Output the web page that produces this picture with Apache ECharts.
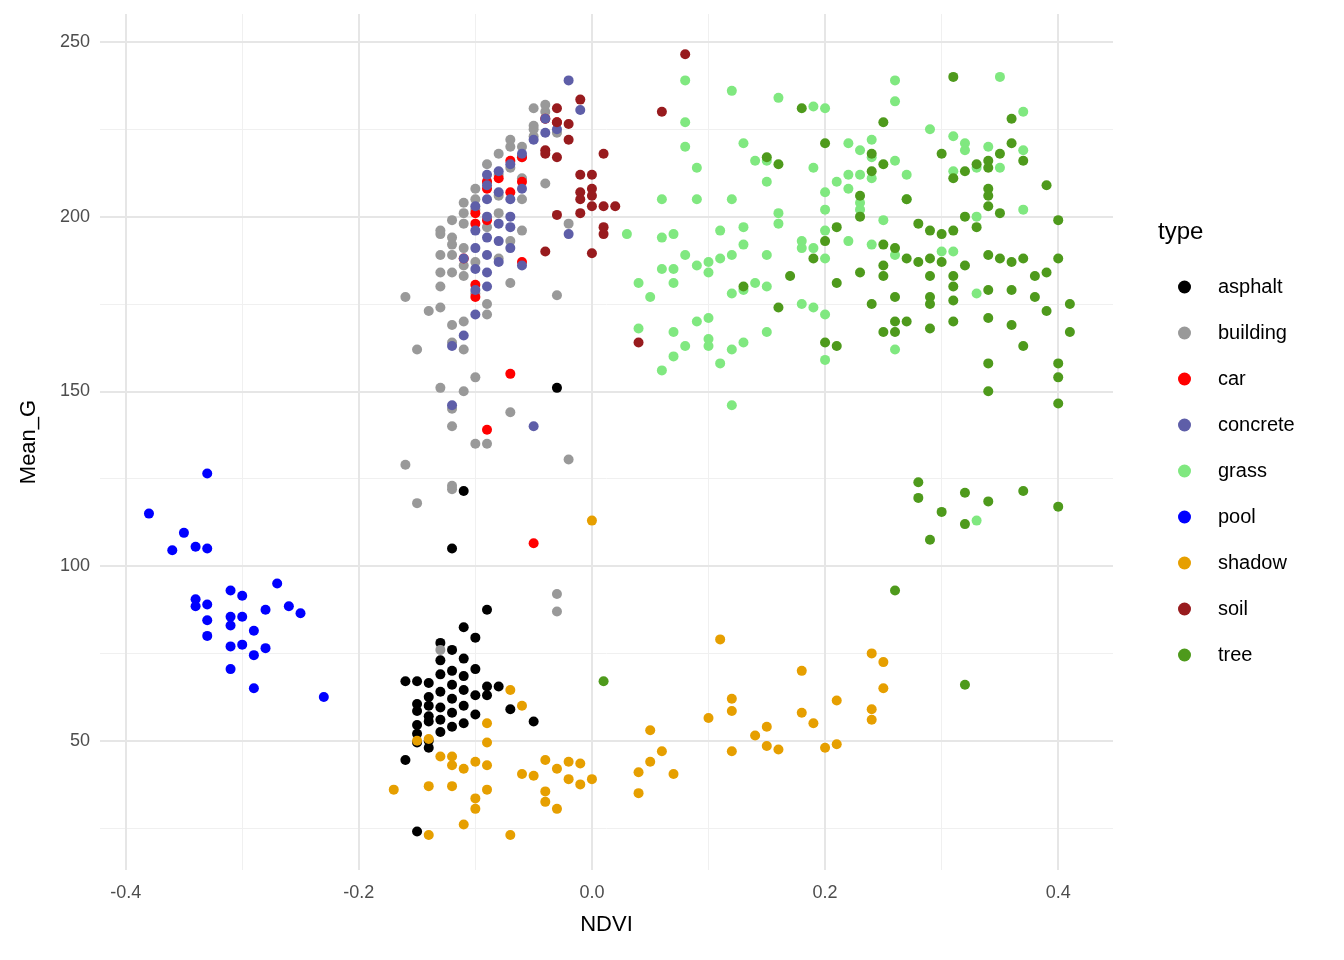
<!DOCTYPE html>
<html><head><meta charset="utf-8">
<script src="https://cdn.jsdelivr.net/npm/echarts@6/dist/echarts.min.js"></script>
<style>html,body{margin:0;padding:0;background:#fff}#c{width:1344px;height:960px}</style>
</head><body><div id="c"></div>
<script>
const xTicks=[-0.4,-0.2,0,0.2,0.4];
const xMinor=[-0.3,-0.1,0.1,0.3];
const yTicks=[50,100,150,200,250];
const yMinor=[25,75,125,175,225];
const typeNames=['asphalt','building','car','concrete','grass','pool','shadow','soil','tree'];
const colors=['#000000','#999999','#ff0000','#5e5ea8','#80e880','#0000ff','#e69f00','#981b1e','#4e9a1c'];
const asphalt=[[-0.03,151],[-0.11,121.5],[-0.12,105],[-0.09,87.5],[-0.11,82.5],[-0.10,79.5],[-0.13,78],[-0.12,76],[-0.13,73],[-0.11,73.5],[-0.10,70.5],[-0.12,70],[-0.13,69],[-0.11,68.5],[-0.16,67],[-0.15,67],[-0.14,66.5],[-0.12,66],[-0.09,65.5],[-0.08,65.5],[-0.11,64.5],[-0.13,64],[-0.14,62.5],[-0.12,62],[-0.10,63],[-0.09,63],[-0.15,60.5],[-0.14,60],[-0.13,59.5],[-0.11,60],[-0.12,58],[-0.15,58.5],[-0.14,57],[-0.10,57.5],[-0.07,59],[-0.13,56],[-0.14,55.5],[-0.15,54.5],[-0.11,55],[-0.12,54],[-0.05,55.5],[-0.15,52],[-0.14,50],[-0.13,52.5],[-0.15,49.5],[-0.14,48],[-0.16,44.5],[-0.15,24]];
const building=[[-0.16,177],[-0.15,162],[-0.13,151],[-0.12,140],[-0.11,150],[-0.10,154],[-0.12,145],[-0.10,135],[-0.09,135],[-0.07,144],[-0.16,129],[-0.15,118],[-0.12,123],[-0.12,122],[-0.02,130.5],[-0.03,92],[-0.03,87],[-0.13,76],[-0.03,177.5],[-0.02,198],[-0.04,209.5],[-0.11,162],[-0.12,164],[-0.12,169],[-0.11,170],[-0.14,173],[-0.13,174],[-0.09,175],[-0.09,172],[-0.1,178],[-0.07,181],[-0.13,184],[-0.12,184],[-0.11,186],[-0.13,189],[-0.12,189],[-0.11,191],[-0.13,195],[-0.13,196],[-0.12,194],[-0.12,199],[-0.11,198],[-0.11,201],[-0.11,204],[-0.10,202],[-0.10,205],[-0.1,208],[-0.09,210],[-0.08,212],[-0.09,215],[-0.08,218],[-0.07,220],[-0.07,222],[-0.06,220],[-0.05,223],[-0.05,225],[-0.05,226],[-0.04,228],[-0.04,230],[-0.05,231],[-0.04,232],[-0.03,224],[-0.06,217],[-0.07,214],[-0.08,206],[-0.12,192],[-0.11,183],[-0.13,180],[-0.06,196],[-0.07,193],[-0.08,201],[-0.09,197],[-0.06,205],[-0.06,211],[-0.08,188],[-0.1,187]];
const car=[[-0.04,228],[-0.06,217],[-0.07,216],[-0.08,211],[-0.09,210],[-0.06,210],[-0.09,208],[-0.07,207],[-0.10,201],[-0.10,198],[-0.09,199],[-0.11,188],[-0.10,180.5],[-0.10,177],[-0.06,187],[-0.07,155],[-0.09,139],[-0.05,106.5],[-0.03,227]];
const concrete=[[-0.02,239],[-0.01,230.5],[-0.04,228],[-0.03,225],[-0.04,224],[-0.05,222],[-0.06,218],[-0.07,215],[-0.08,213],[-0.09,212],[-0.09,209],[-0.08,207],[-0.07,205],[-0.09,205],[-0.1,203],[-0.09,200],[-0.08,198],[-0.07,197],[-0.1,196],[-0.09,194],[-0.08,193],[-0.1,191],[-0.09,189],[-0.08,187],[-0.07,191],[-0.1,185],[-0.09,184],[-0.09,180],[-0.1,179],[-0.06,186],[-0.02,195],[-0.11,166],[-0.12,163],[-0.12,146],[-0.05,140],[-0.11,188],[-0.1,172],[-0.07,200],[-0.06,208]];
const grass=[[0.08,239],[0.12,236],[0.16,234],[0.19,231.5],[0.20,231],[0.26,239],[0.26,233],[0.35,240],[0.37,230],[0.08,227],[0.24,222],[0.22,221],[0.13,221],[0.29,225],[0.31,223],[0.32,221],[0.32,219],[0.34,220],[0.37,219],[0.08,220],[0.23,219],[0.24,217],[0.26,216],[0.15,216],[0.14,216],[0.09,214],[0.19,214],[0.22,212],[0.23,212],[0.24,211],[0.27,212],[0.33,214],[0.35,214],[0.31,213],[0.21,210],[0.15,210],[0.22,208],[0.20,207],[0.23,204],[0.06,205],[0.09,205],[0.12,205],[0.20,202],[0.23,202],[0.33,200],[0.37,202],[0.16,201],[0.25,199],[0.16,198],[0.13,197],[0.11,196],[0.03,195],[0.06,194],[0.07,195],[0.20,196],[0.22,193],[0.13,192],[0.18,191],[0.19,191],[0.24,192],[0.15,189],[0.08,189],[0.12,189],[0.10,187],[0.11,188],[0.09,186],[0.26,189],[0.30,190],[0.20,188],[0.07,185],[0.06,185],[0.10,184],[0.04,181],[0.07,181],[0.05,177],[0.14,181],[0.15,180],[0.13,179],[0.12,178],[0.18,175],[0.19,174],[0.20,172],[0.10,171],[0.09,170],[0.07,167],[0.04,168],[0.15,167],[0.13,164],[0.12,162],[0.10,163],[0.10,165],[0.08,163],[0.07,160],[0.11,158],[0.06,156],[0.20,159],[0.26,162],[0.12,146],[0.31,190],[0.33,178],[0.33,113],[0.27,205],[0.18,193]];
const pool=[[-0.38,115],[-0.33,126.5],[-0.35,109.5],[-0.36,104.5],[-0.34,105.5],[-0.33,105],[-0.34,90.5],[-0.34,88.5],[-0.33,89],[-0.31,93],[-0.30,91.5],[-0.31,85.5],[-0.30,85.5],[-0.33,84.5],[-0.31,83],[-0.33,80],[-0.29,81.5],[-0.27,95],[-0.28,87.5],[-0.26,88.5],[-0.25,86.5],[-0.31,77],[-0.30,77.5],[-0.28,76.5],[-0.29,74.5],[-0.31,70.5],[-0.29,65],[-0.23,62.5]];
const shadow=[[0.0,113],[0.11,79],[0.24,75],[0.25,72.5],[0.18,70],[0.25,65],[-0.07,64.5],[-0.06,60],[0.12,62],[0.21,61.5],[0.24,59],[0.12,58.5],[0.18,58],[0.10,56.5],[0.19,55],[0.24,56],[-0.09,55],[0.15,54],[0.05,53],[0.14,51.5],[-0.14,50.5],[-0.09,49.5],[0.15,48.5],[0.16,47.5],[0.20,48],[0.21,49],[0.12,47],[0.06,47],[-0.13,45.5],[-0.12,45.5],[-0.15,50],[-0.12,43],[-0.10,44],[-0.11,42],[-0.09,43],[-0.04,44.5],[-0.02,44],[-0.01,43.5],[0.05,44],[-0.06,40.5],[-0.05,40],[-0.03,42],[-0.02,39],[-0.01,37.5],[0.0,39],[0.04,41],[0.07,40.5],[-0.14,37],[-0.12,37],[-0.09,36],[-0.04,35.5],[-0.17,36],[-0.10,33.5],[-0.10,30.5],[-0.04,32.5],[-0.03,30.5],[0.04,35],[-0.11,26],[-0.14,23],[-0.07,23]];
const soil=[[0.08,246.5],[-0.01,233.5],[0.06,230],[-0.03,231],[-0.03,227],[-0.02,226.5],[-0.02,222],[-0.04,219],[-0.03,217],[-0.04,218],[0.01,218],[-0.01,212],[0.0,212],[0.0,208],[-0.01,207],[0.0,206],[-0.01,205],[0.0,203],[0.01,203],[0.02,203],[-0.01,201],[0.01,197],[0.01,195],[-0.03,200.5],[-0.04,190],[0.0,189.5],[0.04,164]];
const tree=[[0.31,240],[0.36,228],[0.25,227],[0.18,231],[0.20,221],[0.24,218],[0.30,218],[0.33,215],[0.34,216],[0.36,221],[0.37,216],[0.15,217],[0.16,215],[0.25,215],[0.24,213],[0.31,211],[0.32,213],[0.34,214],[0.35,218],[0.39,209],[0.34,208],[0.34,206],[0.27,205],[0.23,206],[0.23,200],[0.32,200],[0.34,203],[0.35,201],[0.40,199],[0.28,198],[0.29,196],[0.30,195],[0.31,196],[0.33,197],[0.21,197],[0.20,193],[0.25,192],[0.26,191],[0.27,188],[0.28,187],[0.29,188],[0.30,187],[0.32,186],[0.34,189],[0.35,188],[0.36,187],[0.37,188],[0.19,188],[0.25,186],[0.17,183],[0.23,184],[0.25,183],[0.29,183],[0.31,183],[0.31,180],[0.34,179],[0.36,179],[0.38,177],[0.38,183],[0.39,184],[0.40,188],[0.21,181],[0.13,180],[0.26,177],[0.29,177],[0.24,175],[0.29,175],[0.31,176],[0.16,174],[0.39,173],[0.41,175],[0.26,170],[0.27,170],[0.31,170],[0.34,171],[0.36,169],[0.41,167],[0.25,167],[0.26,167],[0.29,168],[0.37,163],[0.20,164],[0.21,163],[0.40,158],[0.34,158],[0.40,154],[0.34,150],[0.40,146.5],[0.28,124],[0.28,119.5],[0.32,121],[0.37,121.5],[0.34,118.5],[0.30,115.5],[0.32,112],[0.29,107.5],[0.40,117],[0.26,93],[0.01,67],[0.32,66]];
const allData=[asphalt,building,car,concrete,grass,pool,shadow,soil,tree];

const chart=echarts.init(document.getElementById('c'));
const gridLines={type:'scatter',data:[],silent:true,z:0,zlevel:0,markLine:{silent:true,symbol:'none',z:0,label:{show:false},animation:false,data:[
  ...xMinor.map(v=>({xAxis:v,lineStyle:{color:'#f0f0f0',width:1,type:'solid'}})),
  ...yMinor.map(v=>({yAxis:v,lineStyle:{color:'#f0f0f0',width:1,type:'solid'}})),
  ...xTicks.map(v=>({xAxis:v,lineStyle:{color:'#e6e6e6',width:2,type:'solid'}})),
  ...yTicks.map(v=>({yAxis:v,lineStyle:{color:'#e6e6e6',width:2,type:'solid'}}))
]}};
chart.setOption({
  animation:false,
  textStyle:{fontFamily:'Liberation Sans, Arial'},
  grid:{left:100,right:231,top:14,bottom:90},
  xAxis:{type:'value',min:-0.422,max:0.447,name:'NDVI',nameLocation:'middle',nameGap:44,
    nameTextStyle:{fontSize:22,color:'#000'},
    axisLine:{show:false},axisTick:{show:false},splitLine:{show:false},
    axisLabel:{customValues:xTicks,color:'#4d4d4d',fontSize:18,margin:14,formatter:v=>v.toFixed(1)}},
  yAxis:{type:'value',min:13,max:258,name:'Mean_G',nameLocation:'middle',nameGap:60,
    nameTextStyle:{fontSize:22,color:'#000'},
    axisLine:{show:false},axisTick:{show:false},splitLine:{show:false},
    axisLabel:{customValues:yTicks,color:'#4d4d4d',fontSize:18,margin:10}},
  legend:{orient:'vertical',left:1173,top:272,itemGap:26,icon:'circle',itemWidth:13,itemHeight:13,
    textStyle:{fontSize:20,color:'#000',padding:[0,0,0,22]},data:typeNames},
  graphic:[{type:'text',left:1158,top:220,style:{text:'type',fontSize:24,fill:'#000',fontFamily:'Liberation Sans, Arial'}}],
  series:[gridLines,...typeNames.map((n,i)=>({name:n,type:'scatter',z:5,data:allData[i],symbolSize:10,itemStyle:{color:colors[i],opacity:1}}))]
});
</script></body></html>
